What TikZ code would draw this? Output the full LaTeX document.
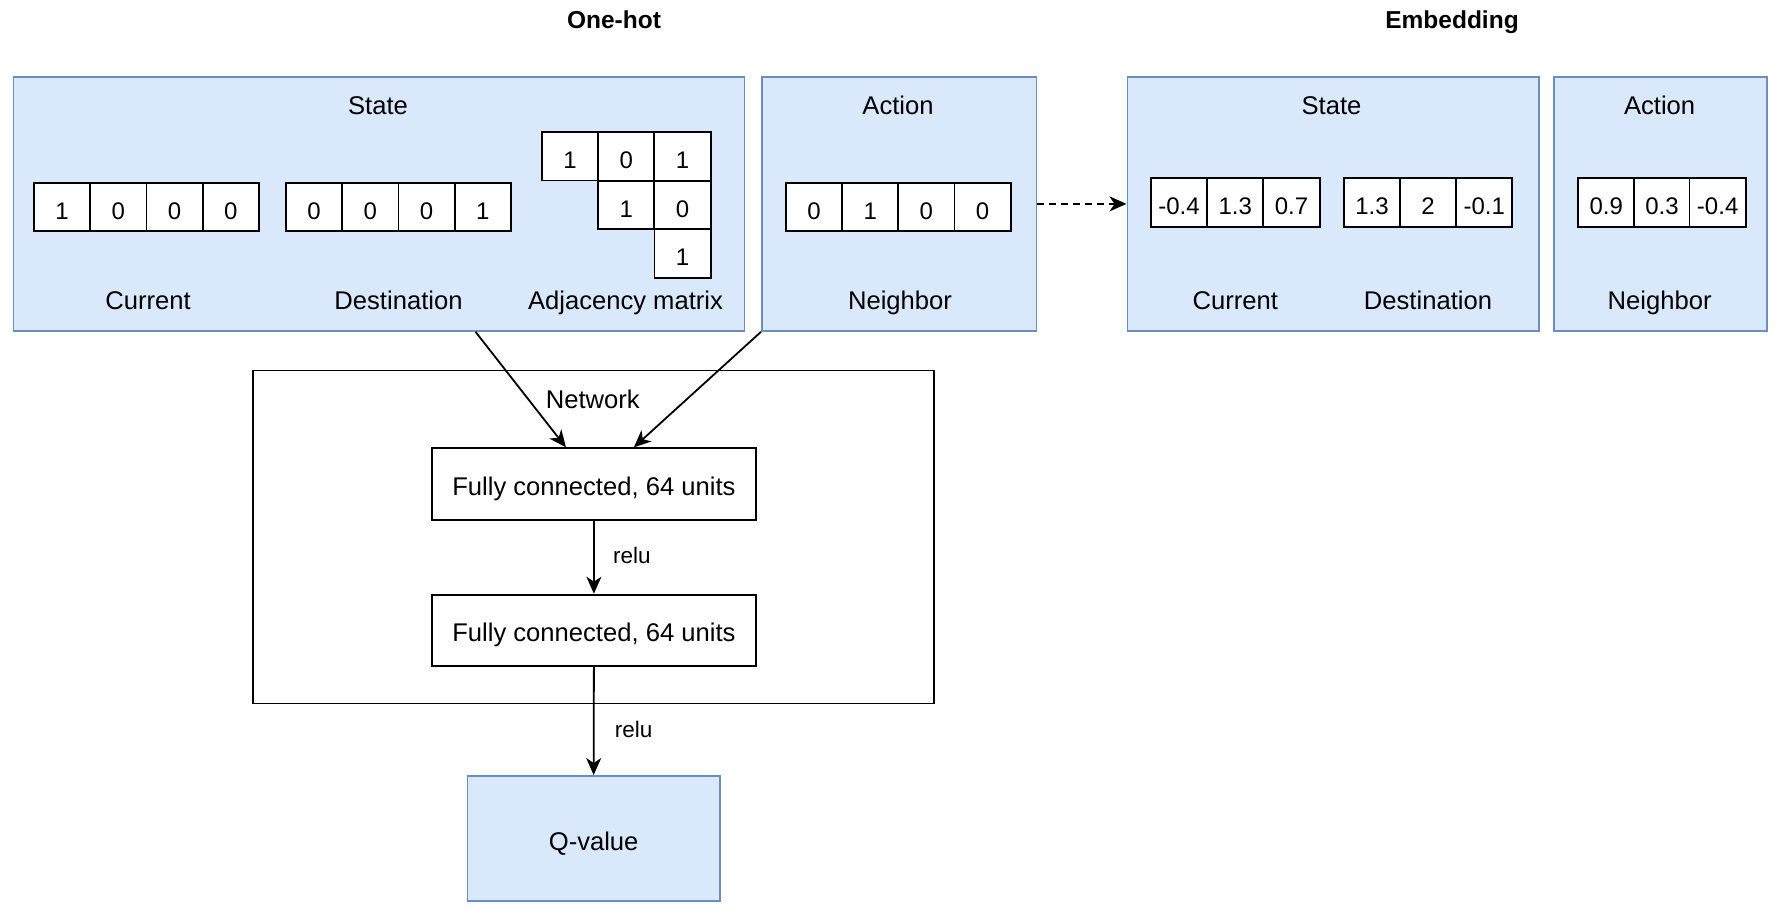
\documentclass[tikz,border=0pt]{standalone}
\usepackage{fontspec}
\setmainfont{Liberation Sans}
\usetikzlibrary{arrows.meta,calc}
\begin{document}
\begin{tikzpicture}[x=1pt,y=-1pt,
  lbl/.style={font=\fontsize{25.6}{30}\selectfont, inner sep=0pt, text height=18.3pt, text depth=0pt},
  smalllbl/.style={font=\fontsize{22.5}{27}\selectfont, inner sep=0pt, text height=16.1pt, text depth=0pt},
  ttl/.style={font=\fontsize{24.5}{30}\selectfont\bfseries, inner sep=0pt, text height=17.6pt, text depth=0pt},
  bluebox/.style={draw=boxline, fill=boxfill, line width=1.8pt, inner sep=0pt, anchor=north west},
  blackbox/.style={draw=black, fill=white, line width=1.8pt, inner sep=0pt, anchor=north west},
  cell/.style={draw=black, fill=white, line width=1.8pt, inner sep=0pt, minimum width=56.2pt, minimum height=48.6pt, font=\fontsize{24}{28}\selectfont, text height=24.6pt, text depth=0pt},
  arr/.style={line width=1.8pt, -{Stealth[length=17pt, width=15pt, inset=5pt]}},
  darr/.style={line width=1.8pt, dash pattern=on 7pt off 5pt, -{Stealth[length=17pt, width=15pt, inset=5pt]}}
]
\definecolor{boxfill}{HTML}{DAE8FC}
\definecolor{boxline}{HTML}{6C8EBF}
\useasboundingbox (0,0) rectangle (1777,910);
\fill[white] (0,0) rectangle (1777,910);

% titles
\node[ttl] (tOne) at (614,19.5) {One-hot};
\node[ttl] (tEmb) at (1452,19.5) {Embedding};

% one-hot state
\node[bluebox, minimum width=731pt, minimum height=254pt] (ohState) at (12.5,76) {};
\node[lbl] (ohStateL) at (378,105.5) {State};
\foreach \v [count=\i] in {1,0,0,0} {
  \node[cell] (cur\i) at ({34+56.2*(\i-0.5)},207) {\v};
}
\foreach \v [count=\i] in {0,0,0,1} {
  \node[cell] (dst\i) at ({286+56.25*(\i-0.5)},207) {\v};
}
\node[cell] (adj11) at (570,156.2) {1};
\node[cell] (adj12) at (626.2,156.2) {0};
\node[cell] (adj13) at (682.5,156.2) {1};
\node[cell] (adj22) at (626.2,205) {1};
\node[cell] (adj23) at (682.5,205) {0};
\node[cell] (adj33) at (682.5,253.5) {1};
\node[lbl] (curL) at (148,300.7) {Current};
\node[lbl] (dstL) at (398.5,300.7) {Destination};
\node[lbl] (adjL) at (625.5,300.7) {Adjacency matrix};

% one-hot action
\node[bluebox, minimum width=274.5pt, minimum height=254pt] (ohAction) at (761,76) {};
\node[lbl] (ohActionL) at (898,105.5) {Action};
\foreach \v [count=\i] in {0,1,0,0} {
  \node[cell] (act\i) at ({786+56.15*(\i-0.5)},207) {\v};
}
\node[lbl] (nbrL) at (900,300.7) {Neighbor};

% embedding state
\node[bluebox, minimum width=411.3pt, minimum height=254pt] (emState) at (1126.5,76) {};
\node[lbl] (emStateL) at (1331.5,105.5) {State};
\foreach \v [count=\i] in {-0.4,1.3,0.7} {
  \node[cell] (ecur\i) at ({1150.8+56.3*(\i-0.5)},202.6) {\v};
}
\foreach \v [count=\i] in {1.3,2,-0.1} {
  \node[cell] (edst\i) at ({1344+56.1*(\i-0.5)},202.6) {\v};
}
\node[lbl] (ecurL) at (1235.3,300.7) {Current};
\node[lbl] (edstL) at (1428,300.7) {Destination};

% embedding action
\node[bluebox, minimum width=213.4pt, minimum height=254pt] (emAction) at (1553,76) {};
\node[lbl] (emActionL) at (1659.6,105.5) {Action};
\foreach \v [count=\i] in {0.9,0.3,-0.4} {
  \node[cell] (eact\i) at ({1578.4+55.7*(\i-0.5)},202.6) {\v};
}
\node[lbl] (enbrL) at (1659.6,300.7) {Neighbor};

% network
\node[blackbox, minimum width=680.7pt, minimum height=333pt] (net) at (252,369.5) {};
\node[lbl] (netL) at (592.8,399.5) {Network};
\node[blackbox, minimum width=324pt, minimum height=71.6pt] (fc1) at (431,447.3) {};
\node[lbl, yshift=-2pt] (fc1L) at (fc1.center) {Fully connected, 64 units};
\node[blackbox, minimum width=324pt, minimum height=71pt] (fc2) at (431,593.7) {};
\node[lbl, yshift=-2pt] (fc2L) at (fc2.center) {Fully connected, 64 units};

% q-value
\node[bluebox, minimum width=252.5pt, minimum height=125pt] (q) at (466.5,775) {};
\node[lbl, yshift=-3pt] (qL) at (q.center) {Q-value};

% connectors
\draw[arr] ($(ohState.south west)+(463,0)$) -- ($(fc1.north)+(-28,0)$);
\draw[arr] (ohAction.south west) -- ($(fc1.north)+(40,0)$);
\draw[arr] (fc1.south) -- (fc2.north);
\node[smalllbl] (relu1) at (631.8,555.1) {relu};
\draw[arr] (fc2.south) -- (q.north);
\node[smalllbl] (relu2) at (633.7,729.8) {relu};
\draw[darr] (ohAction.east) -- (emState.west);
\end{tikzpicture}
\end{document}
